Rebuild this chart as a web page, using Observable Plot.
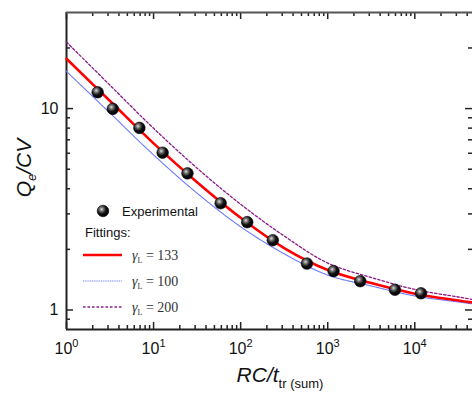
<!DOCTYPE html>
<html><head><meta charset="utf-8">
<script src="https://cdn.jsdelivr.net/npm/d3@7"></script>
<script src="https://cdn.jsdelivr.net/npm/@observablehq/plot@0.6"></script>
<style>body{margin:0;background:#fff;overflow:hidden} svg{display:block}</style>
</head><body><div id="chart"></div>
<script>
// Experimental points
const xExp = [2.28, 3.40, 6.87, 12.7, 24.5, 58.9, 119, 234, 577, 1167, 2364, 5917, 11780];
const yExp = [12.05, 9.97, 8.02, 6.04, 4.77, 3.39, 2.73, 2.22, 1.70, 1.56, 1.39, 1.26, 1.21];
// Fitted curves
const xFit = [1, 3.162, 10, 31.62, 100, 316.2, 1000, 3162, 10000, 31620, 46000];
const fit133 = [17.67, 10.9, 6.72, 4.31, 2.87, 2.03, 1.58, 1.36, 1.205, 1.115, 1.09];
const fit100 = [15.3, 9.50, 5.89, 3.80, 2.59, 1.90, 1.49, 1.316, 1.174, 1.096, 1.071];
const fit200 = [21.4, 13.06, 7.98, 5.06, 3.35, 2.33, 1.71, 1.45, 1.265, 1.16, 1.128];
// Ticks
const xMajor = [1, 10, 100, 1000, 10000];
const xMinor = [2,3,4,5,6,7,8,9,20,30,40,50,60,70,80,90,200,300,400,500,600,700,800,900,
  2000,3000,4000,5000,6000,7000,8000,9000,20000,30000,40000];
const yMajor = [1, 10];
const yMinor = [0.9, 2, 3, 4, 5, 6, 7, 8, 9, 20];
const legendLabels = ["Experimental", "Fittings:", "133", "100", "200"];

const W = 472, H = 394, mL = 66, mT = 12, mB = 65, mR = 0;
const pH = H - mT - mB, pW = W - mL - mR;
const axisColor = "#222";

const toRows = (xs, ys) => xs.map((x, i) => ({x, y: ys[i]}));

const plot = Plot.plot({
  width: W, height: H,
  marginLeft: mL, marginTop: mT, marginBottom: mB, marginRight: mR,
  style: {fontFamily: "'Liberation Sans', Arial, sans-serif", background: "#fff", overflow: "visible"},
  x: {type: "log", domain: [1, 46000]},
  y: {type: "log", domain: [0.8, 30]},
  marks: [
    Plot.axisX(xMajor, {tickSize: 0, tickPadding: 13, fontSize: 16, label: null, fill: "#111",
      tickFormat: d => String(Math.round(Math.log10(d)))}),
    Plot.axisY(yMajor, {tickSize: 0, tickPadding: 8, fontSize: 16, label: null, fill: "#111",
      tickFormat: d => String(d)}),
    // inward ticks: bottom & top
    Plot.tickX(xMajor, {insetTop: pH - 7, stroke: axisColor, strokeWidth: 1.5}),
    Plot.tickX(xMinor, {insetTop: pH - 4, stroke: axisColor, strokeWidth: 1.5}),
    Plot.tickX(xMajor, {insetBottom: pH - 7, stroke: axisColor, strokeWidth: 1.5}),
    Plot.tickX(xMinor, {insetBottom: pH - 4, stroke: axisColor, strokeWidth: 1.5}),
    // inward ticks: left & right
    Plot.tickY(yMajor, {insetRight: pW - 7, stroke: axisColor, strokeWidth: 1.5}),
    Plot.tickY(yMinor, {insetRight: pW - 4, stroke: axisColor, strokeWidth: 1.5}),
    Plot.tickY(yMajor, {insetLeft: pW - 7, stroke: axisColor, strokeWidth: 1.5}),
    Plot.tickY(yMinor, {insetLeft: pW - 4, stroke: axisColor, strokeWidth: 1.5}),
    // axis lines
    Plot.ruleX([1], {stroke: axisColor, strokeWidth: 2}),
    Plot.ruleY([0.8], {stroke: axisColor, strokeWidth: 2}),
    Plot.ruleY([30], {stroke: "#555", strokeWidth: 2}),
    // fits
    Plot.line(toRows(xFit, fit100), {x: "x", y: "y", curve: "catmull-rom", stroke: "#6a78ff", strokeWidth: 1.1, strokeDasharray: "1,0.8"}),
    Plot.line(toRows(xFit, fit200), {x: "x", y: "y", curve: "catmull-rom", stroke: "#8a1a8a", strokeWidth: 1.3, strokeDasharray: "2.5,2"}),
    Plot.line(toRows(xFit, fit133), {x: "x", y: "y", curve: "catmull-rom", stroke: "#ff0000", strokeWidth: 2.6}),
    // experimental
    Plot.dot(toRows(xExp, yExp), {x: "x", y: "y", r: 5.8, fill: "url(#ball)", stroke: "#000", strokeWidth: 0.6})
  ]
});
document.getElementById("chart").appendChild(plot);

const svg = d3.select(plot);
const defs = svg.insert("defs", ":first-child");
const grad = defs.append("radialGradient").attr("id", "ball").attr("cx", "38%").attr("cy", "35%").attr("r", "65%");
grad.append("stop").attr("offset", "0%").attr("stop-color", "#e0e0e0");
grad.append("stop").attr("offset", "25%").attr("stop-color", "#777");
grad.append("stop").attr("offset", "60%").attr("stop-color", "#111");
grad.append("stop").attr("offset", "100%").attr("stop-color", "#000");

// superscript exponents on x tick labels
svg.selectAll('g[aria-label="x-axis tick label"] text').each(function() {
  const t = d3.select(this);
  const e = t.text();
  t.text("10");
  t.append("tspan").attr("dy", -6.5).attr("font-size", 11).text(e);
});

// axis titles
const yl = svg.append("text")
  .attr("transform", "translate(31,168) rotate(-90)")
  .attr("text-anchor", "middle")
  .attr("font-family", "'Liberation Sans', Arial, sans-serif")
  .attr("font-size", 21).attr("fill", "#111").attr("font-style", "italic");
yl.append("tspan").text("Q");
yl.append("tspan").attr("font-size", 13).attr("dy", 5).text("e");
yl.append("tspan").attr("dy", -5).text("/CV");

const xl = svg.append("text")
  .attr("x", 280).attr("y", 382)
  .attr("text-anchor", "middle")
  .attr("font-family", "'Liberation Sans', Arial, sans-serif")
  .attr("font-size", 21).attr("fill", "#111");
xl.append("tspan").attr("font-style", "italic").text("RC/t");
xl.append("tspan").attr("font-size", 13).attr("dy", 6).text("tr (sum)");

// legend
const lg = svg.append("g").attr("font-family", "'Liberation Sans', Arial, sans-serif")
  .attr("fill", "#111").attr("text-anchor", "start");
lg.append("circle").attr("cx", 103).attr("cy", 211).attr("r", 5.8).attr("fill", "url(#ball)").attr("stroke", "#000").attr("stroke-width", 0.6);
lg.append("text").attr("x", 122).attr("y", 216).attr("font-size", 13).text(legendLabels[0]);
lg.append("text").attr("x", 85).attr("y", 237).attr("font-size", 13).text(legendLabels[1]);
const entries = [
  {y: 255, stroke: "#ff0000", w: 2.6, dash: null, label: legendLabels[2]},
  {y: 281, stroke: "#6a78ff", w: 1.1, dash: "1,0.8", label: legendLabels[3]},
  {y: 307, stroke: "#8a1a8a", w: 1.3, dash: "2.5,2", label: legendLabels[4]}
];
for (const e of entries) {
  lg.append("line").attr("x1", 83).attr("x2", 122).attr("y1", e.y).attr("y2", e.y)
    .attr("stroke", e.stroke).attr("stroke-width", e.w).attr("stroke-dasharray", e.dash);
  const t = lg.append("text").attr("x", 132).attr("y", e.y + 5)
    .attr("font-family", "'Liberation Serif', 'Times New Roman', serif").attr("font-size", 14).attr("fill", "#333");
  t.append("tspan").attr("font-style", "italic").text("γ");
  t.append("tspan").attr("font-size", 8).attr("dy", 3).text("L");
  t.append("tspan").attr("dy", -3).text(" = " + e.label);
}
</script></body></html>
